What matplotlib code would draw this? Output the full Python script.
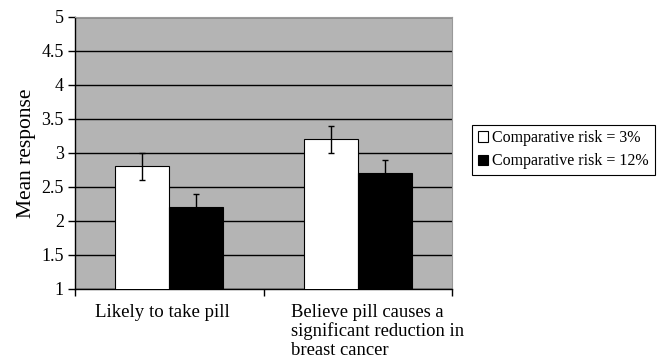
import matplotlib.pyplot as plt
import numpy as np

plt.rcParams['font.family'] = ['Liberation Serif', 'DejaVu Serif']

# data
categories = ['Likely to take pill',
              'Believe pill causes a\nsignificant reduction in\nbreast cancer']
series_names = ['Comparative risk = 3%', 'Comparative risk = 12%']
risk3 = [2.8, 3.2]
risk12 = [2.2, 2.7]
err3 = [0.2, 0.2]
err12 = [0.2, 0.2]

fig = plt.figure(figsize=(6.58, 3.61), dpi=100)
ax = fig.add_axes([0.114, 0.2, 0.573, 0.753])
ax.set_facecolor('#b4b4b4')

x = np.arange(len(categories))
w = 0.287
ax.bar(x - w / 2, risk3, w, color='white', edgecolor='black', linewidth=0.8,
       yerr=err3, capsize=2.5, error_kw=dict(elinewidth=1, capthick=1), zorder=3,
       label=series_names[0])
ax.bar(x + w / 2, risk12, w, color='black', edgecolor='black', linewidth=0.8,
       yerr=err12, capsize=2.5, error_kw=dict(elinewidth=1, capthick=1), zorder=3,
       label=series_names[1])

ax.set_ylim(1, 5)
ax.set_xlim(-0.5, 1.5)
ax.set_yticks(np.arange(1, 5.01, 0.5))
ax.set_yticklabels(['1', '1.5', '2', '2.5', '3', '3.5', '4', '4.5', '5'])
ax.set_xticks([-0.5, 0.5, 1.5])
ax.set_xticklabels([])
ax.yaxis.grid(True, color='black', linewidth=1)
ax.set_axisbelow(True)
ax.tick_params(axis='y', length=5, width=1, labelsize=13, pad=3)
ax.tick_params(axis='x', length=5, width=1)

for s in ['top', 'right']:
    ax.spines[s].set_color('#999999')
    ax.spines[s].set_linewidth(0.8)
for s in ['left', 'bottom']:
    ax.spines[s].set_color('black')
    ax.spines[s].set_linewidth(1)

ax.set_ylabel('Mean response', fontsize=15.5, labelpad=4)

# category labels below the axis
ax.text(x[0] - 0.035, -0.055, categories[0], transform=ax.get_xaxis_transform(),
        ha='center', va='top', fontsize=13.6)
ax.text(x[1] - 0.355, -0.055, categories[1], transform=ax.get_xaxis_transform(),
        ha='left', va='top', fontsize=13.4, linespacing=1.12)

leg = fig.legend(loc='upper left', bbox_to_anchor=(0.718, 0.655), fontsize=11.5,
                 frameon=True, fancybox=False, edgecolor='black', framealpha=1,
                 handlelength=0.6, handleheight=0.6, handletextpad=0.3,
                 borderpad=0.35, labelspacing=0.45, borderaxespad=0)
leg.get_frame().set_linewidth(0.8)

fig.savefig('out.png', dpi=100)
